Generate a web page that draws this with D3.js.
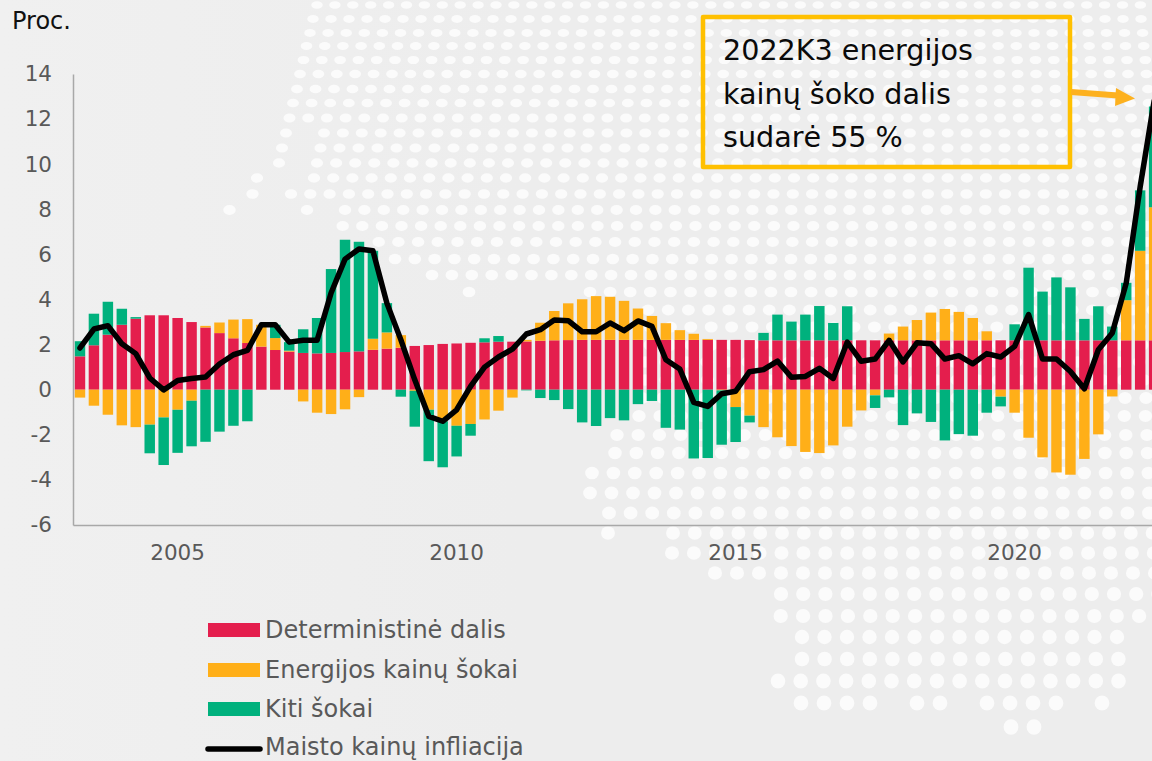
<!DOCTYPE html>
<html>
<head>
<meta charset="utf-8">
<script src="https://cdn.jsdelivr.net/npm/d3@7"></script>
<style>
  body { margin: 0; background: #ededed; overflow: hidden; }
  svg { display: block; }
  text { font-family: "DejaVu Sans", Verdana, sans-serif; }
</style>
</head>
<body>
<div id="graph"></div>
<script>
// quarters 2003K2 .. 2022K3
var quarters = [];
for (var q = 0; q < 78; q++) {
    var t = 2003 * 4 + 1 + q;
    quarters.push(Math.floor(t / 4) + "K" + (t % 4 + 1));
}
var yearTicks = ["2005K1", "2010K1", "2015K1", "2020K1"];
var yTicks = [14, 12, 10, 8, 6, 4, 2, 0, -2, -4, -6];

var determ = [1.48, 1.97, 2.44, 2.88, 3.15, 3.30, 3.30, 3.18, 3.00, 2.76,
    2.51, 2.28, 2.07, 1.91, 1.76, 1.69, 1.63, 1.61, 1.63, 1.67,
    1.70, 1.77, 1.82, 1.86, 1.94, 1.98, 2.03, 2.05, 2.08, 2.10,
    2.13, 2.13, 2.14, 2.17, 2.19, 2.20, 2.21, 2.21, 2.21, 2.21,
    2.21, 2.21, 2.21, 2.21, 2.21, 2.21, 2.21, 2.21, 2.20, 2.19,
    2.19, 2.19, 2.19, 2.19, 2.19, 2.19, 2.19, 2.19, 2.19, 2.19,
    2.19, 2.19, 2.19, 2.19, 2.19, 2.19, 2.19, 2.19, 2.19, 2.19,
    2.19, 2.19, 2.19, 2.19, 2.19, 2.19, 2.19, 2.19];

var energy = [-0.35, -0.71, -1.11, -1.58, -1.66, -1.55, -1.23, -0.89, -0.49, 0.07,
    0.47, 0.83, 1.06, 0.97, 0.53, 0.04, -0.52, -1.02, -1.08, -0.87,
    -0.33, 0.49, 0.72, 0.56, -0.05, -0.89, -1.40, -1.60, -1.52, -1.32,
    -0.93, -0.35, 0.07, 0.80, 1.30, 1.63, 1.80, 1.94, 1.91, 1.73,
    1.39, 1.06, 0.74, 0.43, 0.27, 0.04, -0.03, -0.77, -1.15, -1.66,
    -2.11, -2.50, -2.76, -2.81, -2.47, -1.64, -0.92, -0.25, 0.30, 0.61,
    0.90, 1.23, 1.39, 1.26, 0.99, 0.40, -0.31, -1.02, -2.13, -3.00,
    -3.67, -3.77, -3.07, -1.98, -0.30, 1.78, 3.97, 5.90];

var other = [0.67, 1.40, 1.46, 0.71, 0.07, -1.27, -2.11, -1.91, -2.02, -2.31,
    -1.86, -1.60, -1.40, 0, 0.59, 0.38, 1.05, 1.57, 3.72, 4.98,
    4.86, 3.90, 1.30, -0.31, -1.59, -2.28, -2.04, -1.36, -0.52, 0.18,
    0.25, 0, -0.03, -0.37, -0.46, -0.86, -1.45, -1.61, -1.26, -1.36,
    -0.64, -0.50, -1.69, -1.77, -3.05, -3.03, -2.41, -1.55, -0.30, 0.33,
    1.14, 0.83, 1.14, 1.52, 0.77, 1.51, 0, -0.56, -0.34, -1.57,
    -1.05, -1.43, -2.25, -1.97, -2.04, -1.02, -0.43, 0.71, 3.22, 2.16,
    2.79, 2.35, 0.95, 1.51, 0.61, 0.77, 2.68, 4.47];

var inflation = [1.85, 2.69, 2.84, 2.04, 1.60, 0.52, -0.01, 0.41, 0.50, 0.56,
    1.14, 1.55, 1.74, 2.88, 2.88, 2.11, 2.19, 2.19, 4.29, 5.79,
    6.24, 6.16, 3.84, 2.22, 0.44, -1.18, -1.40, -0.89, 0.15, 1.00,
    1.45, 1.80, 2.47, 2.66, 3.09, 3.06, 2.57, 2.57, 2.96, 2.62,
    3.05, 2.81, 1.33, 0.92, -0.56, -0.74, -0.18, -0.07, 0.80, 0.89,
    1.27, 0.55, 0.59, 0.95, 0.50, 2.11, 1.26, 1.36, 2.19, 1.23,
    2.08, 2.04, 1.36, 1.51, 1.15, 1.60, 1.45, 1.92, 3.33, 1.36,
    1.36, 0.81, 0.04, 1.77, 2.51, 4.73, 9.00, 12.8];

var seriesNames = ["Deterministinė dalis", "Energijos kainų šokai", "Kiti šokai"];
var lineName = "Maisto kainų infliacija";
var noteLines = ["2022K3 energijos", "kainų šoko dalis", "sudarė 55 %"];

// background dot map rows: y, first x, step, count (0 = up to the page edge)
var dotRows = [
    [5, 317, 17.9, 0], [19, 313, 18, 0], [33, 310, 18.1, 0], [46, 306.5, 18.2, 0],
    [60, 303.5, 18.3, 0], [74, 300, 18.4, 0], [89, 297, 18.5, 0], [103, 293, 18.6, 0],
    [118, 289.5, 18.7, 0], [133, 286, 0, 1], [133, 324, 18.9, 0], [148, 282, 0, 1],
    [148, 320.5, 19, 0], [163, 279, 0, 1], [163, 317, 19.1, 0], [178, 257, 0, 1],
    [178, 314, 19.2, 0], [194, 252.5, 0, 1], [194, 291, 19.3, 0], [210, 229.5, 0, 1],
    [210, 307, 0, 1], [210, 345, 19.4, 0], [226, 342.7, 19.6, 0], [242, 378.7, 19.7, 0],
    [259, 395, 19.8, 0], [275, 432, 19.9, 0], [292, 469, 0, 1], [292, 590, 20.1, 0],
    [310, 648, 20.2, 0], [327, 650, 20.4, 0], [345, 650, 20.5, 0], [362, 645, 20.6, 0],
    [380, 645, 20.8, 0], [398, 642, 21, 0], [416, 639, 21.1, 0], [435, 617, 21.2, 0],
    [453, 615, 21.3, 0], [473, 592, 21.4, 0], [493, 590, 21.5, 0], [513, 609, 21.6, 0],
    [533, 608, 0, 1], [533, 673, 21.8, 0], [553, 672, 21.9, 0], [573, 715, 22, 0],
    [594, 781, 22.2, 0], [616, 780.7, 22.4, 17], [637, 802, 22.5, 15], [659, 802, 22.6, 15],
    [681, 778, 22.7, 16], [703, 801, 23, 4], [703, 917, 23, 2], [703, 987, 23, 4],
    [703, 1102, 0, 1], [727, 1011, 23, 2]
];

var W = 1152, H = 761;
var margin = {top: 74, bottom: 761 - 525, left: 73};
var colors = ["#e41e4d", "#ffaf18", "#00b17d"];

var svg = d3.select("#graph").append("svg")
    .attr("width", W)
    .attr("height", H);

// page background, a bit lighter on the left
var grad = svg.append("defs").append("linearGradient")
    .attr("id", "bg");
grad.append("stop").attr("offset", "0").attr("stop-color", "#f0f0f0");
grad.append("stop").attr("offset", "0.45").attr("stop-color", "#ededed");
svg.append("rect").attr("width", W).attr("height", H).attr("fill", "url(#bg)");

// background dots
var rxScale = d3.scaleLinear().domain([0, 640]).range([5.7, 7.2]);
var ryScale = d3.scaleLinear().domain([0, 640]).range([3.8, 7.2]);
var dots = [];
dotRows.forEach(function(r) {
    var n = r[3] || Math.ceil((W + 10 - r[1]) / r[2]);
    d3.range(n).forEach(function(i) { dots.push({x: r[1] + i * r[2], y: r[0]}); });
});
svg.append("g").selectAll("ellipse")
    .data(dots)
    .join("ellipse")
    .attr("cx", function(d) { return d.x; })
    .attr("cy", function(d) { return d.y; })
    .attr("rx", function(d) { return rxScale(d.y); })
    .attr("ry", function(d) { return ryScale(d.y); })
    .attr("fill", "#fbfbfb");

// scales
var x = d3.scaleBand()
    .domain(quarters)
    .range([margin.left, margin.left + 78 * 13.95])
    .paddingInner(0.25)
    .paddingOuter(0.125);
var y = d3.scaleLinear()
    .domain([-6, 14])
    .range([H - margin.bottom, margin.top]);

// stacked bars
var rows = quarters.map(function(k, i) {
    return {quarter: k, a: determ[i], b: energy[i], c: other[i]};
});
var stacked = d3.stack()
    .keys(["a", "b", "c"])
    .offset(d3.stackOffsetDiverging)(rows);

svg.append("g").selectAll("g")
    .data(stacked)
    .join("g")
    .attr("fill", function(d, i) { return colors[i]; })
    .selectAll("rect")
    .data(function(d) { return d; })
    .join("rect")
    .attr("x", function(d) { return x(d.data.quarter); })
    .attr("width", x.bandwidth())
    .attr("y", function(d) { return y(d[1]); })
    .attr("height", function(d) { return y(d[0]) - y(d[1]); });

// Add X axis
var xAxis = svg.append("g")
    .attr("transform", "translate(0," + y(-6) + ")")
    .call(d3.axisBottom(x)
        .tickValues(yearTicks)
        .tickSize(0)
        .tickPadding(20)
        .tickFormat(function(d) { return d.slice(0, 4); }));

// Add Y axis
var yAxis = svg.append("g")
    .attr("transform", "translate(" + margin.left + ",0)")
    .call(d3.axisLeft(y)
        .tickValues(yTicks)
        .tickSize(0)
        .tickPadding(21)
        .tickFormat(function(d) { return String(d); }));

[xAxis, yAxis].forEach(function(a) {
    a.select(".domain").attr("stroke", "#a8a8a8").attr("stroke-width", 1.5);
    a.selectAll("text")
        .attr("fill", "#595959")
        .attr("font-size", 21.5)
        .attr("font-family", "DejaVu Sans");
});

// inflation line
var line = d3.line()
    .x(function(d, i) { return x(quarters[i]) + x.bandwidth() / 2; })
    .y(function(d) { return y(d); });
svg.append("path")
    .datum(inflation)
    .attr("fill", "none")
    .attr("stroke", "#000")
    .attr("stroke-width", 5.5)
    .attr("stroke-linejoin", "round")
    .attr("stroke-linecap", "round")
    .attr("d", line);

// Proc. label
svg.append("text")
    .attr("x", 12)
    .attr("y", 29)
    .attr("font-size", 24)
    .attr("fill", "#111")
    .text("Proc.");

// legend
var legendY = [630, 670, 709, 749];
seriesNames.forEach(function(name, i) {
    svg.append("rect")
        .attr("x", 208)
        .attr("y", legendY[i] - 7)
        .attr("width", 52)
        .attr("height", 14)
        .attr("fill", colors[i]);
});
svg.append("line")
    .attr("x1", 208).attr("x2", 260)
    .attr("y1", legendY[3]).attr("y2", legendY[3])
    .attr("stroke", "#000")
    .attr("stroke-width", 5.5)
    .attr("stroke-linecap", "round");
var legendBase = [638, 678, 717, 755];
seriesNames.concat([lineName]).forEach(function(name, i) {
    svg.append("text")
        .attr("x", 265)
        .attr("y", legendBase[i])
        .attr("font-size", 24)
        .attr("fill", "#595959")
        .text(name);
});

// note box with arrow
svg.append("rect")
    .attr("x", 703).attr("y", 17)
    .attr("width", 367).attr("height", 150)
    .attr("fill", "none")
    .attr("stroke", "#ffc000")
    .attr("stroke-width", 4.5)
    .attr("stroke-linejoin", "round");
noteLines.forEach(function(t, i) {
    svg.append("text")
        .attr("x", 723)
        .attr("y", 60 + i * 43.5)
        .attr("font-family", "Open Sans")
        .attr("font-size", 28.6)
        .attr("fill", "#0a0a0a")
        .text(t);
});
svg.append("line")
    .attr("x1", 1071).attr("y1", 92)
    .attr("x2", 1118).attr("y2", 95.5)
    .attr("stroke", "#fdb11f")
    .attr("stroke-width", 6);
svg.append("path")
    .attr("d", "M1135,98.5L1116,88L1115,106Z")
    .attr("fill", "#fdb11f");
</script>
</body>
</html>
